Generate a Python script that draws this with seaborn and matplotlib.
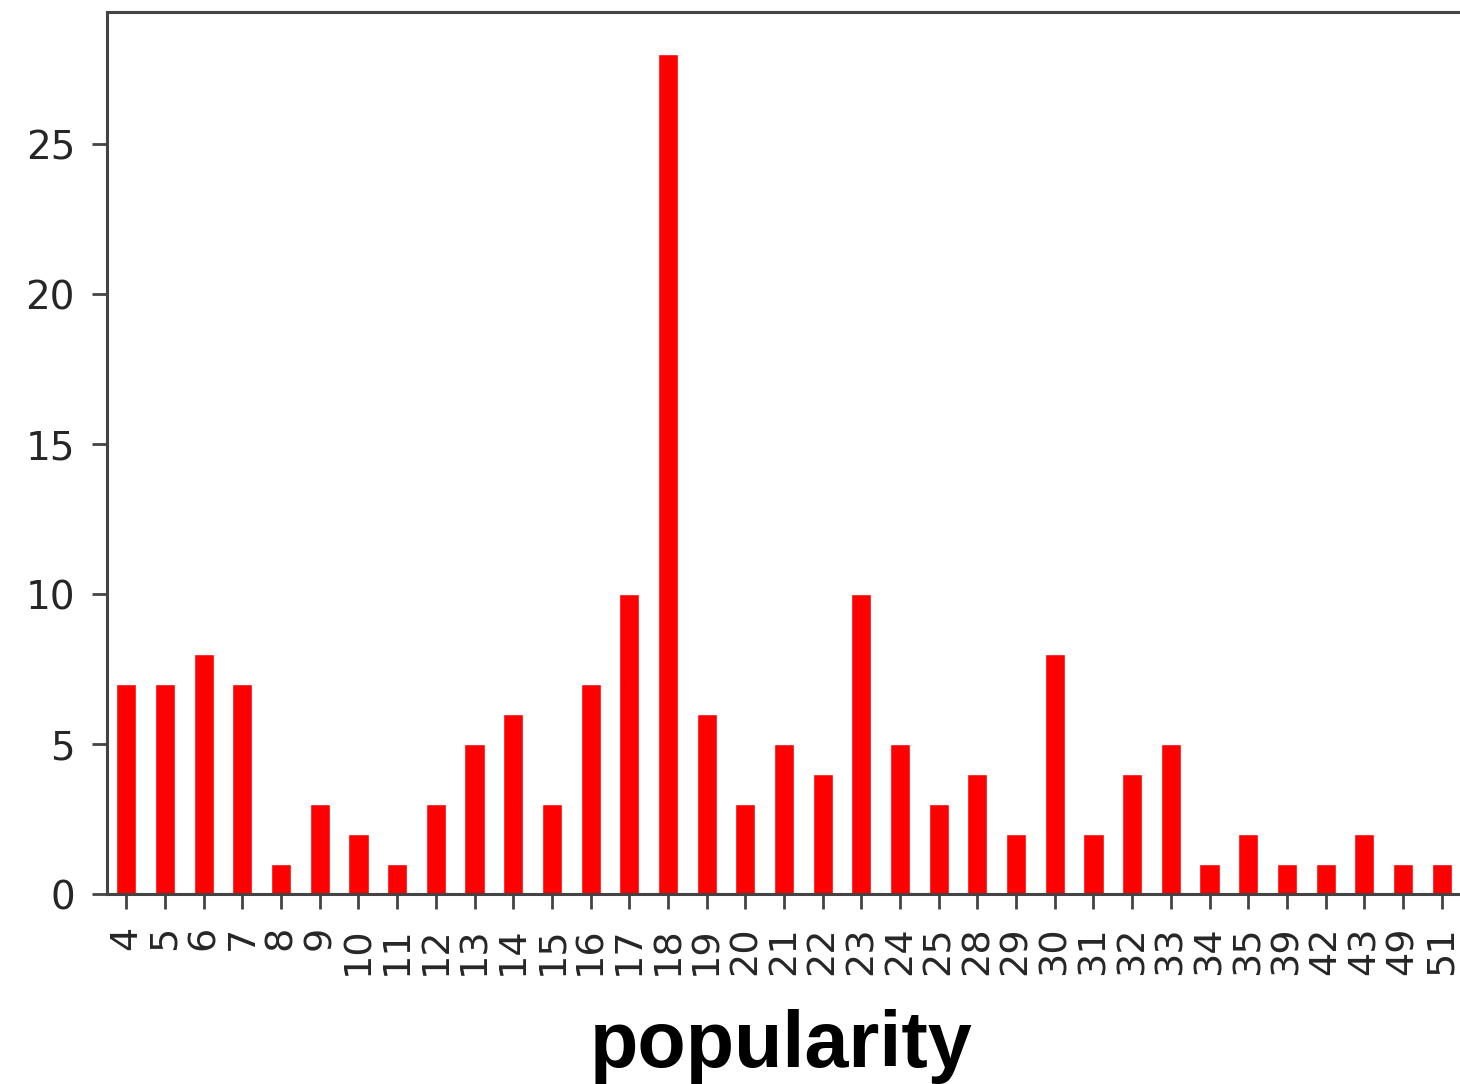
import matplotlib
matplotlib.use("Agg")
import matplotlib.pyplot as plt
import seaborn as sns
import pandas as pd

categories = ["4", "5", "6", "7", "8", "9", "10", "11", "12", "13", "14", "15", "16", "17",
              "18", "19", "20", "21", "22", "23", "24", "25", "28", "29", "30", "31", "32",
              "33", "34", "35", "39", "42", "43", "49", "51"]
counts = [7, 7, 8, 7, 1, 3, 2, 1, 3, 5, 6, 3, 7, 10, 28, 6, 3, 5, 4, 10, 5, 3, 4, 2, 8,
          2, 4, 5, 1, 2, 1, 1, 2, 1, 1]
y_ticks = [0, 5, 10, 15, 20, 25]

sns.set_style("white")
plt.rcParams['font.family'] = ['DejaVu Sans']

df = pd.DataFrame({"popularity": categories, "count": counts})

fig = plt.figure(figsize=(14.6, 10.84), dpi=100)
ax = fig.add_axes([107 / 1460, (1084 - 894) / 1084, (1461 - 107) / 1460, (894 - 12) / 1084])

sns.barplot(data=df, x="popularity", y="count", order=categories, color="#ff0000",
            saturation=1, width=0.52, ax=ax)

ax.set_xlim(-0.5, len(categories) - 0.5)
ax.set_ylim(0, max(counts) * 1.05)
ax.set_yticks(y_ticks)
ax.set_xlabel("")
ax.set_ylabel("")
for s in ax.spines.values():
    s.set_visible(True)
    s.set_color("#444444")
    s.set_linewidth(2.2)
ax.spines["right"].set_visible(False)
ax.tick_params(axis="both", which="both", length=11, width=2.0, color="#444444",
               labelsize=28, labelcolor="#262626", pad=12, bottom=True, left=True)
ax.tick_params(axis="x", labelrotation=90, labelsize=27.5)

fig.text(781 / 1460, (1084 - 1067) / 1084, "popularity", ha="center", va="baseline",
         fontsize=57, fontweight="bold", family=["Liberation Sans", "DejaVu Sans"],
         color="black")

fig.savefig("out.png", dpi=100)
